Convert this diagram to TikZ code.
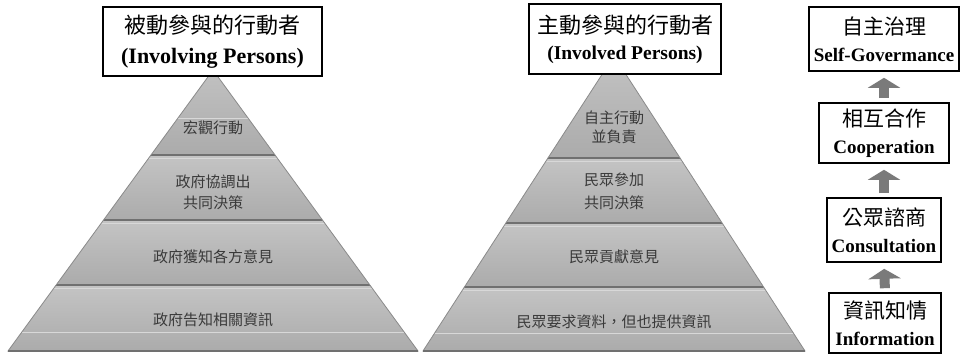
\documentclass[tikz,border=0pt]{standalone}
\usepackage{fontspec}
\setmainfont{Liberation Serif}
\newfontfamily\cjk{Noto Sans CJK TC}
\usetikzlibrary{arrows.meta,calc}
\definecolor{pyrA}{HTML}{C4C4C4}
\definecolor{pyrB}{HTML}{ABABAB}
\definecolor{pyrEdge}{HTML}{8A8A8A}
\definecolor{pyrDiv}{HTML}{707070}
\definecolor{pyrHi}{HTML}{D8D8D8}
\definecolor{lbl}{HTML}{3A3A3A}
\definecolor{arr}{HTML}{7A7A7A}
\tikzset{
  titlebox/.style={draw=black, line width=1.6pt, fill=white, inner sep=0pt, align=center},
  levelbox/.style={draw=black, line width=1.6pt, fill=white, inner sep=0pt, align=center,
    font=\fontsize{19}{27}\selectfont},
  boxcjk/.style={},
  lvl/.style={text=lbl, align=center, inner sep=0pt},
  band/.style={top color=pyrA, bottom color=pyrB},
  divline/.style={draw=pyrDiv, line width=1.5pt},
  hiline/.style={draw=pyrHi, line width=1pt},
  pyredge/.style={draw=pyrEdge, line width=0.8pt},
  uparrow/.style={draw=arr, line width=10pt, -{Triangle[width=32pt,length=10pt]},
    shorten <=4pt, shorten >=6pt},
}
\newcommand{\boxcjktext}[1]{{\cjk\fontsize{21}{27}\selectfont #1}}
\begin{document}
\begin{tikzpicture}[x=1pt,y=-1pt]
\useasboundingbox (0,0) rectangle (966,359);
\fill[white] (0,0) rectangle (966,359);

% ---------- left pyramid ----------
\begin{scope}
  \clip (213,70) -- (418,351) -- (8,351) -- cycle;
  \shade[band] (0,60) rectangle (430,155);
  \shade[band] (0,155) rectangle (430,220);
  \shade[band] (0,220) rectangle (430,285);
  \shade[band] (0,285) rectangle (430,351);
  \draw[hiline] (0,118) -- (430,118);
  \draw[hiline] (0,158.5) -- (430,158.5);
  \draw[hiline] (0,223.5) -- (430,223.5);
  \draw[hiline] (0,288.5) -- (430,288.5);
  \draw[hiline] (0,332) -- (430,332);
  \draw[divline] (0,155) -- (430,155);
  \draw[divline] (0,220) -- (430,220);
  \draw[divline] (0,285) -- (430,285);
\end{scope}
\draw[pyredge] (213,70) -- (418,351) -- (8,351) -- cycle;
\draw[divline] (8,351) -- (418,351);

% ---------- middle pyramid ----------
\begin{scope}
  \clip (614,56) -- (805,351) -- (423,351) -- cycle;
  \shade[band] (415,50) rectangle (815,158);
  \shade[band] (415,158) rectangle (815,223);
  \shade[band] (415,223) rectangle (815,287);
  \shade[band] (415,287) rectangle (815,351);
  \draw[hiline] (415,161.5) -- (815,161.5);
  \draw[hiline] (415,226.5) -- (815,226.5);
  \draw[hiline] (415,290.5) -- (815,290.5);
  \draw[hiline] (415,333) -- (815,333);
  \draw[divline] (415,158) -- (815,158);
  \draw[divline] (415,223) -- (815,223);
  \draw[divline] (415,287) -- (815,287);
\end{scope}
\draw[pyredge] (614,56) -- (805,351) -- (423,351) -- cycle;
\draw[divline] (423,351) -- (805,351);

% ---------- pyramid labels ----------
\node[lvl, font=\cjk\fontsize{15}{20}\selectfont] (l1) at (213,128) {宏觀行動};
\node[lvl, font=\cjk\fontsize{15}{20.5}\selectfont] (l2) at (213,192) {政府協調出\\共同決策};
\node[lvl, font=\cjk\fontsize{15}{20}\selectfont] (l3) at (213,257) {政府獲知各方意見};
\node[lvl, font=\cjk\fontsize{15}{20}\selectfont] (l4) at (213,320) {政府告知相關資訊};

\node[lvl, font=\cjk\fontsize{15}{19.5}\selectfont] (m1) at (614,127.5) {自主行動\\並負責};
\node[lvl, font=\cjk\fontsize{15}{23}\selectfont] (m2) at (614,191.5) {民眾參加\\共同決策};
\node[lvl, font=\cjk\fontsize{15}{20}\selectfont] (m3) at (614,257) {民眾貢獻意見};
\node[lvl, font=\cjk\fontsize{15}{20}\selectfont] (m4) at (614,322) {民眾要求資料，但也提供資訊};

% ---------- title boxes ----------
\node[titlebox, minimum width=219pt, minimum height=69pt, font=\fontsize{22}{30}\selectfont]
  (tl) at (212.5,41.5) {{\cjk 被動參與的行動者}\\{\bfseries (Involving Persons)}};
\node[titlebox, minimum width=192pt, minimum height=70pt, font=\fontsize{19.5}{26}\selectfont]
  (tm) at (625,39) {{\cjk\fontsize{22}{26}\selectfont 主動參與的行動者}\\{\bfseries (Involved Persons)}};

% ---------- right column ----------
\node[levelbox, minimum width=150pt, minimum height=64pt] (b1) at (884,39)
  {\boxcjktext{自主治理}\\{\bfseries Self-Govermance}};
\node[levelbox, minimum width=130pt, minimum height=60pt] (b2) at (884,133)
  {\boxcjktext{相互合作}\\{\bfseries Cooperation}};
\node[levelbox, minimum width=114pt, minimum height=64pt] (b3) at (884,230)
  {\boxcjktext{公眾諮商}\\{\bfseries Consultation}};
\node[levelbox, minimum width=112pt, minimum height=60pt] (b4) at (885,323)
  {\boxcjktext{資訊知情}\\{\bfseries Information}};

\draw[uparrow] (b4.north) -- (b3.south);
\draw[uparrow] (b3.north) -- (b2.south);
\draw[uparrow] (b2.north) -- (b1.south);
\end{tikzpicture}
\end{document}
